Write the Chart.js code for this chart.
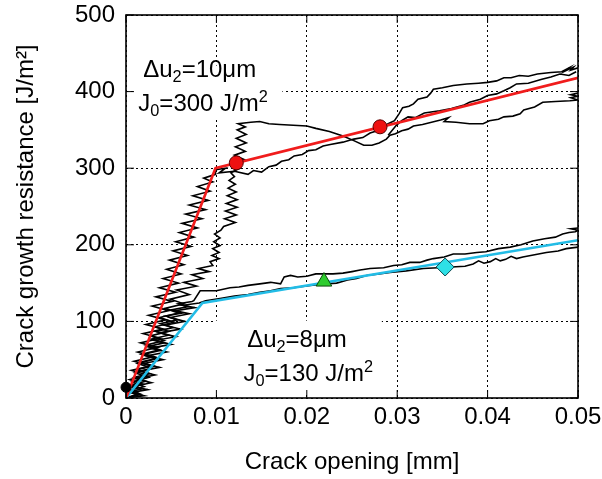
<!DOCTYPE html>
<html>
<head>
<meta charset="utf-8">
<script src="https://cdn.jsdelivr.net/npm/chart.js@4.4.0/dist/chart.umd.min.js"></script>
<style>
  html, body { margin: 0; padding: 0; background: #fff; }
</style>
</head>
<body>
<canvas id="chart" width="602" height="479"></canvas>
<script>
// R-curves, upper group (du2 = 10 um): [crack opening mm, J/m2]
const upperCurveA = [
  [0,0],[0.0016,5],[0.0004,10],[0.0020,15],[0.0007,21],[0.0025,27],[0.0010,33],[0.0029,39],
  [0.0013,45],[0.0033,51],[0.0017,57],[0.0037,63],[0.0022,69],[0.0042,75],[0.0027,81],[0.0047,87],
  [0.0032,93],[0.0053,99],[0.0037,105],[0.0058,111],[0.0043,117],[0.0064,123],[0.0049,129],[0.0070,135],
  [0.0056,141],[0.0078,146],[0.0064,151],[0.0085,156],[0.0073,161],[0.0092,165],[0.0080,169],[0.0096,173],
  [0.0093,178],[0.0103,182],[0.0095,186],[0.0103,190],[0.0096,195],[0.0104,199],[0.0097,204],[0.0104,209],
  [0.0098,214],[0.0105,219],[0.0108,224],[0.0121,229],[0.0109,234],[0.0122,239],[0.0110,244],[0.0123,249],
  [0.0111,254],[0.0123,259],[0.0112,264],[0.0122,269],[0.0113,274],[0.0121,279],[0.0114,284],[0.0120,289],
  [0.0116,294],[0.0126,300],[0.0119,306],[0.0131,311],[0.0120,317],[0.0132,322],[0.0121,328],[0.0133,333],
  [0.0122,339],[0.0133,344],[0.0123,350],[0.0132,354],[0.0124,358],[0.0138,360],[0.0148,361],[0.0158,358],
  [0.0170,357],[0.0185,356],[0.0200,355],[0.0210,352],[0.0225,348],[0.0240,342],[0.0252,336],[0.0263,330],
  [0.0272,330],[0.0280,333],[0.0288,338],[0.0292,343],[0.0298,345],[0.0305,349],[0.0312,351],[0.0318,355],
  [0.0328,357],[0.0338,360],[0.0348,363],[0.0357,366],[0.0352,361],[0.0365,360],[0.0380,358],[0.0395,358],
  [0.0402,362],[0.0412,364],[0.0418,367],[0.0428,368],[0.0436,371],[0.0440,376],[0.0452,380],[0.0461,386],
  [0.0475,387],[0.0491,388],[0.0500,389],[0.0492,392],[0.0500,394],[0.0492,396],[0.0500,398]
];
const upperCurveB = [
  [0,0],[0.0014,6],[0.0002,12],[0.0019,18],[0.0004,24],[0.0024,30],[0.0006,36],[0.0028,42],
  [0.0009,48],[0.0031,54],[0.0013,60],[0.0035,66],[0.0016,72],[0.0038,78],[0.0019,84],[0.0041,90],
  [0.0022,96],[0.0044,102],[0.0025,108],[0.0047,114],[0.0029,120],[0.0051,126],[0.0033,132],[0.0055,138],
  [0.0037,144],[0.0058,150],[0.0041,156],[0.0061,162],[0.0045,168],[0.0064,174],[0.0048,180],[0.0068,186],
  [0.0052,192],[0.0072,198],[0.0055,204],[0.0075,210],[0.0059,216],[0.0079,222],[0.0062,228],[0.0084,234],
  [0.0066,240],[0.0088,246],[0.0070,252],[0.0091,258],[0.0074,264],[0.0093,270],[0.0079,276],[0.0096,282],
  [0.0086,287],[0.0099,292],[0.0099,298],[0.0110,300],[0.0103,294],[0.0120,296],[0.0135,292],[0.0141,297],
  [0.0150,295],[0.0158,302],[0.0166,304],[0.0172,309],[0.0180,311],[0.0186,316],[0.0195,318],[0.0202,323],
  [0.0210,324],[0.0218,329],[0.0226,331],[0.0240,334],[0.0252,338],[0.0262,340],[0.0270,346],[0.0278,349],
  [0.0284,354],[0.0290,358],[0.0297,362],[0.0302,371],[0.0306,379],[0.0313,381],[0.0318,384],[0.0323,390],
  [0.0333,393],[0.0337,398],[0.0340,403],[0.0350,405],[0.0362,408],[0.0377,410],[0.0390,411],[0.0400,412],
  [0.0410,414],[0.0418,418],[0.0426,418],[0.0435,421],[0.0445,420],[0.0455,423],[0.0470,425],[0.0482,426],
  [0.0490,431],[0.0486,427],[0.0495,432],[0.0492,428],[0.0500,431]
];
const upperBranch = [
  [0.0290,343],[0.0299,356],[0.0305,362],[0.0312,367],[0.0320,366],[0.0330,372],[0.0347,375],[0.0360,378],
  [0.0373,382],[0.0380,386],[0.0392,390],[0.0400,395],[0.0410,397],[0.0418,401],[0.0425,405],[0.0432,410],
  [0.0445,411],[0.0460,416],[0.0470,419],[0.0480,423],[0.0490,421],[0.0498,426]
];

// R-curves, lower group (du2 = 8 um)
const lowerCurveA = [
  [0,0],[0.0014,4],[0.0003,8],[0.0018,12],[0.0006,17],[0.0022,22],[0.0009,27],[0.0026,32],
  [0.0012,37],[0.0030,42],[0.0016,47],[0.0034,52],[0.0020,57],[0.0038,62],[0.0024,67],[0.0042,72],
  [0.0028,77],[0.0047,82],[0.0033,87],[0.0052,92],[0.0038,97],[0.0057,102],[0.0044,107],[0.0062,111],
  [0.0050,115],[0.0068,119],[0.0058,123],[0.0073,126],[0.0075,127],[0.0082,140],[0.0100,140],[0.0115,144],
  [0.0125,145],[0.0135,147],[0.0148,149],[0.0160,151],[0.0171,149],[0.0175,158],[0.0182,160],[0.0190,158],
  [0.0200,159],[0.0210,162],[0.0229,162],[0.0240,163],[0.0250,165],[0.0259,167],[0.0270,169],[0.0285,170],
  [0.0296,173],[0.0305,174],[0.0314,177],[0.0325,177],[0.0333,180],[0.0340,182],[0.0352,184],[0.0362,188],
  [0.0375,188],[0.0388,190],[0.0398,191],[0.0412,195],[0.0425,197],[0.0437,200],[0.0450,205],[0.0463,208],
  [0.0475,210],[0.0483,214],[0.0490,216],[0.0497,217],[0.0500,219],[0.0492,221],[0.0500,222]
];
const lowerCurveB = [
  [0,0],[0.0020,3],[0.0005,7],[0.0024,11],[0.0008,15],[0.0028,20],[0.0011,25],[0.0032,30],
  [0.0015,35],[0.0037,40],[0.0019,45],[0.0041,50],[0.0023,55],[0.0045,60],[0.0027,65],[0.0050,70],
  [0.0032,75],[0.0055,80],[0.0037,85],[0.0060,90],[0.0043,95],[0.0065,100],[0.0049,105],[0.0070,110],
  [0.0055,114],[0.0076,118],[0.0063,121],[0.0081,124],[0.0088,127],[0.0104,130],[0.0120,133],[0.0135,135],
  [0.0148,138],[0.0160,140],[0.0171,143],[0.0185,144],[0.0204,147],[0.0220,149],[0.0233,150],[0.0245,154],
  [0.0255,156],[0.0266,160],[0.0280,162],[0.0292,164],[0.0310,166],[0.0329,169],[0.0345,170],[0.0360,171],
  [0.0375,172],[0.0384,175],[0.0390,179],[0.0396,176],[0.0403,178],[0.0409,182],[0.0414,179],[0.0420,181],
  [0.0426,185],[0.0432,182],[0.0439,184],[0.0452,187],[0.0465,190],[0.0478,192],[0.0487,195],[0.0500,197]
];

// bilinear fits
const fitUpperX = [0, 0.0099, 0.05];
const fitUpperY = [0, 300, 418];
const fitLowerX = [0, 0.00846, 0.05];
const fitLowerY = [0, 124, 206];

// marked points
const redMarksX = [0.0122, 0.0281];
const redMarksY = [307, 354];
const triangleMark = [0.0219, 152];
const diamondMark = [0.0353, 171];
const originMark = [0, 14];

const xTickLabels = ['0', '0.01', '0.02', '0.03', '0.04', '0.05'];
const yTickLabels = ['0', '100', '200', '300', '400', '500'];

const FONT = "'Liberation Sans', Arial, Helvetica, sans-serif";

// note text: [text, 'sub' | 'sup' | undefined]
const upperNote = [
  [['\u0394u'], ['2', 'sub'], ['=10\u03bcm']],
  [['J'], ['0', 'sub'], ['=300 J/m'], ['2', 'sup']]
];
const lowerNote = [
  [['\u0394u'], ['2', 'sub'], ['=8\u03bcm']],
  [['J'], ['0', 'sub'], ['=130 J/m'], ['2', 'sup']]
];

const pts = arr => arr.map(([x, y]) => ({ x, y }));
const zip = (xs, ys) => xs.map((x, i) => ({ x, y: ys[i] }));

const curve = data => ({
  data: pts(data), showLine: true, borderColor: '#000', borderWidth: 1.6,
  pointRadius: 0, tension: 0, order: 3
});

function drawRich(ctx, x, y, parts, size) {
  parts.forEach(([txt, kind]) => {
    const s = kind ? size * 0.68 : size;
    const dy = kind === 'sub' ? size * 0.22 : kind === 'sup' ? -size * 0.38 : 0;
    ctx.font = s + 'px ' + FONT;
    ctx.fillText(txt, x, y + dy);
    x += ctx.measureText(txt).width;
  });
}

// white boxes behind the notes, then the notes themselves
const notes = {
  id: 'notes',
  beforeDatasetsDraw(chart) {
    const { ctx, scales: { x, y } } = chart;
    ctx.save();
    ctx.fillStyle = '#fff';
    ctx.fillRect(x.getPixelForValue(0.0008), y.getPixelForValue(434),
      x.getPixelForValue(0.0173) - x.getPixelForValue(0.0008), y.getPixelForValue(365) - y.getPixelForValue(434));
    ctx.fillRect(x.getPixelForValue(0.0098), y.getPixelForValue(101),
      x.getPixelForValue(0.0283) - x.getPixelForValue(0.0098), y.getPixelForValue(6) - y.getPixelForValue(101));
    ctx.fillStyle = '#000';
    ctx.textBaseline = 'alphabetic';
    ctx.textAlign = 'left';
    drawRich(ctx, x.getPixelForValue(0.0019), y.getPixelForValue(419), upperNote[0], 24);
    drawRich(ctx, x.getPixelForValue(0.00136), y.getPixelForValue(375), upperNote[1], 24);
    drawRich(ctx, x.getPixelForValue(0.0134), y.getPixelForValue(67), lowerNote[0], 24);
    drawRich(ctx, x.getPixelForValue(0.0130), y.getPixelForValue(22), lowerNote[1], 24);
    ctx.restore();
  }
};

// frame with inward ticks on all four sides
const frame = {
  id: 'frame',
  afterDatasetsDraw(chart) {
    const { ctx, chartArea: a, scales: { x, y } } = chart;
    ctx.save();
    ctx.strokeStyle = '#000';
    ctx.lineWidth = 1;
    ctx.beginPath();
    x.ticks.forEach(t => {
      const px = x.getPixelForValue(t.value);
      ctx.moveTo(px, a.bottom); ctx.lineTo(px, a.bottom - 8);
      ctx.moveTo(px, a.top); ctx.lineTo(px, a.top + 8);
    });
    y.ticks.forEach(t => {
      const py = y.getPixelForValue(t.value);
      ctx.moveTo(a.left, py); ctx.lineTo(a.left + 8, py);
      ctx.moveTo(a.right, py); ctx.lineTo(a.right - 8, py);
    });
    ctx.stroke();
    ctx.lineWidth = 1.6;
    ctx.strokeRect(a.left, a.top, a.right - a.left, a.bottom - a.top);
    ctx.restore();
  }
};

new Chart(document.getElementById('chart'), {
  type: 'scatter',
  data: {
    datasets: [
      { data: [{ x: originMark[0], y: originMark[1] }], pointStyle: 'circle', pointRadius: 5,
        backgroundColor: '#000', borderColor: '#000', clip: false, order: 0 },
      { data: zip(redMarksX, redMarksY), pointStyle: 'circle', pointRadius: 7,
        backgroundColor: '#ee1111', borderColor: '#5a0000', borderWidth: 1, clip: false, order: 0 },
      { data: [{ x: triangleMark[0], y: triangleMark[1] }], pointStyle: 'triangle', pointRadius: 9,
        backgroundColor: '#2ecc2e', borderColor: '#0a4a0a', borderWidth: 1, order: 0 },
      { data: [{ x: diamondMark[0], y: diamondMark[1] }], pointStyle: 'rectRot', pointRadius: 9,
        backgroundColor: '#2ee0e6', borderColor: '#0a4a50', borderWidth: 1, order: 0 },
      { data: zip(fitUpperX, fitUpperY), showLine: true, borderColor: '#f01c1c', borderWidth: 2.6,
        pointRadius: 0, tension: 0, order: 1 },
      { data: zip(fitLowerX, fitLowerY), showLine: true, borderColor: '#22bce6', borderWidth: 2.6,
        pointRadius: 0, tension: 0, order: 1 },
      curve(upperCurveA),
      curve(upperCurveB),
      curve(upperBranch),
      curve(lowerCurveA),
      curve(lowerCurveB)
    ]
  },
  options: {
    responsive: false,
    animation: false,
    devicePixelRatio: 1,
    layout: { padding: { left: 0, right: 24, top: 15, bottom: 0 } },
    plugins: { legend: { display: false }, tooltip: { enabled: false } },
    scales: {
      x: {
        type: 'linear', min: 0, max: 0.05,
        ticks: {
          stepSize: 0.01, padding: 5, color: '#000', font: { family: FONT, size: 24 },
          maxRotation: 0, autoSkip: false,
          callback: (v, i) => xTickLabels[i]
        },
        grid: { color: '#000', lineWidth: 1, drawTicks: false },
        border: { display: false, dash: [2, 3] },
        title: { display: true, text: 'Crack opening [mm]', color: '#000',
          font: { family: FONT, size: 24 }, padding: { top: 0, bottom: 2 } },
        afterFit(s) { s.height = 81; s.paddingLeft = 0; s.paddingRight = 0; }
      },
      y: {
        type: 'linear', min: 0, max: 500,
        ticks: {
          stepSize: 100, padding: 11, color: '#000', font: { family: FONT, size: 24 },
          callback: (v, i) => yTickLabels[i]
        },
        grid: { color: '#000', lineWidth: 1, drawTicks: false },
        border: { display: false, dash: [2, 3] },
        title: { display: true, text: 'Crack growth resistance [J/m\u00b2]', color: '#000',
          font: { family: FONT, size: 24 }, padding: { top: 12, bottom: 0 } },
        afterFit(s) { s.width = 126; s.paddingTop = 0; s.paddingBottom = 0; }
      }
    }
  },
  plugins: [notes, frame]
});
</script>
</body>
</html>
